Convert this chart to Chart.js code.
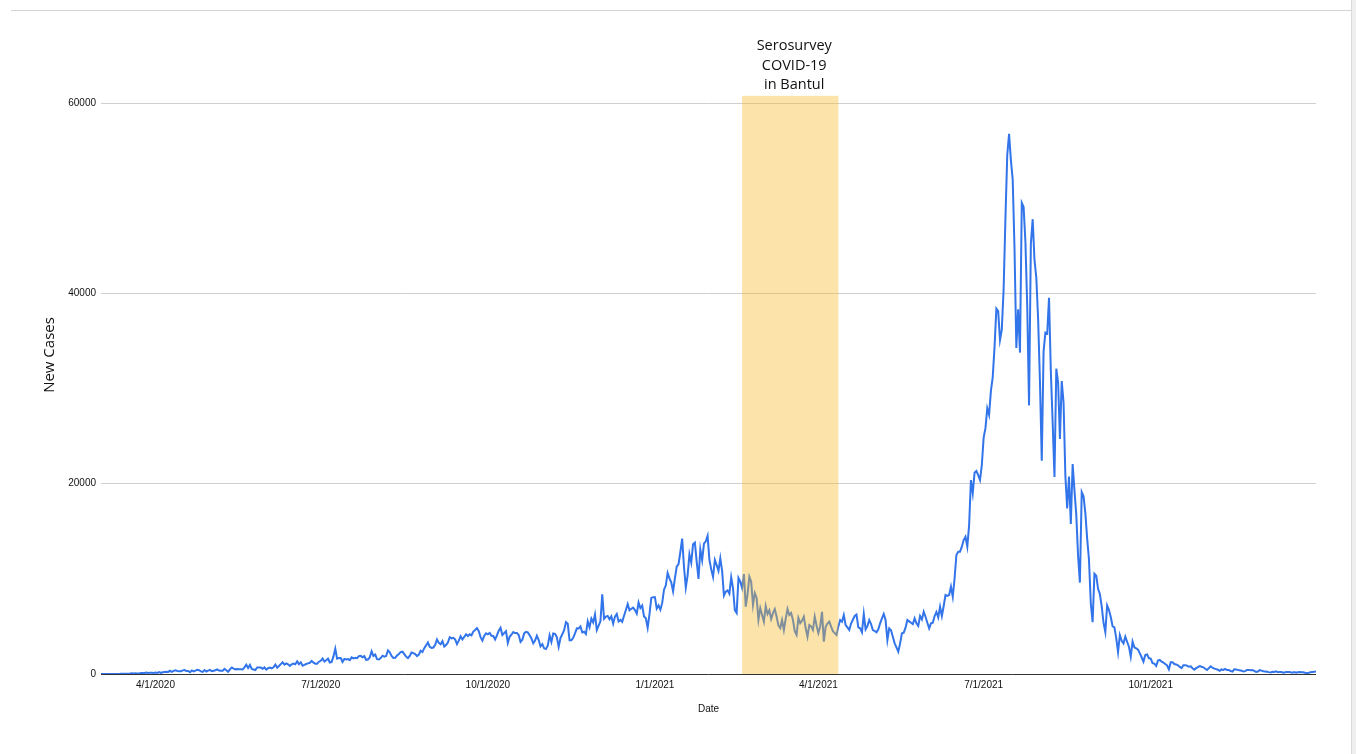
<!DOCTYPE html>
<html><head><meta charset="utf-8">
<script src="https://cdn.jsdelivr.net/npm/chart.js@4.4.1/dist/chart.umd.min.js"></script>
<style>
html,body{margin:0;padding:0;background:#fff;}
#wrap{position:relative;width:1356px;height:754px;overflow:hidden;}
canvas{position:absolute;left:0;top:0;}
#frameTop{position:absolute;left:11px;top:10px;width:1345px;height:0;border-top:1px solid #d4d4d4;}
#frameRight{position:absolute;left:1351px;top:0;width:5px;height:754px;background:#efefef;border-left:1px solid #dadada;}
</style></head>
<body><div id="wrap"><canvas id="c" width="1356" height="754"></canvas><div id="frameTop"></div><div id="frameRight"></div></div>
<script>
// ---- data (daily new cases, 3/2/2020 .. 12/31/2021) ----
const startDate = '3/2/2020';
const mar2020 = [2,0,0,0,2,0,2,13,8,7,0,35,27,21,17,38,55,82,60,81,64,65,107,104,103,153,109,130,129,114];
const apr2020 = [149,113,196,106,181,218,247,218,337,219,330,399,316,282,297,380,407,325,327,185,375,283,357,436,396,275,214,415,260,347];
const may2020 = [433,292,349,395,484,367,338,336,533,387,233,484,689,568,490,529,489,496,486,693,973,634,949,526,479,415,686,687,678,557,700];
const jun2020 = [467,609,684,585,703,993,672,847,1043,1241,979,1111,1014,857,1017,1106,1031,1331,1041,1226,862,954,1051,1113,1178,1385,1198,1082,1082,1293];
const jul2020 = [1385,1624,1301,1447,1607,1209,1268,1853,2657,1611,1671,1681,1282,1591,1522,1574,1462,1752,1639,1693,1655,1882,1906,1761,1868,1492,1525,1748,2381,1904,2040];
const aug2020 = [1560,1519,1679,1922,1815,1882,2473,2277,1893,1687,1693,1942,2098,2307,2345,2081,1821,1673,1902,2266,2197,2090,1877,2037,2447,2306,2719,3003,3308,2858,2743];
const sep2020 = [2775,3075,3622,3269,3128,3444,2880,3046,3307,3861,3737,3806,3636,3141,3507,3963,3635,3891,4168,3989,4176,4071,4465,4634,4823,4494,3874,3509,4002,4284];
const oct2020 = [4174,4317,4007,3992,3622,4056,4538,4850,4094,4294,4497,3267,3906,4127,4411,4301,4301,4105,3373,3602,4267,4432,4369,4070,3732,3222,3520,4029,3565,2897,3143];
const nov2020 = [2696,2618,2973,4065,3356,4262,4213,3880,2853,3779,4173,4598,5444,5272,3535,3535,3807,4265,4798,4792,4998,4360,4442,4192,5534,4917,5828,5418,6267,4617];
const dec2020 = [5092,5533,8369,5803,6027,6089,5754,6058,5292,6033,6310,5521,5681,5489,6120,6726,7354,6689,6848,6982,6719,6347,7514,6934,7199,6046,5854,4854,6267,8002,8074];
const jan2021 = [8072,6877,7203,6753,7445,8854,9321,10617,10046,9640,8692,10047,11278,11557,12818,14224,11287,9086,10365,12568,11703,13632,13802,11788,9994,13094,11948,13695,13950,14518,12001];
const feb2021 = [10994,10202,11984,11434,10840,12156,10827,8242,8650,8776,8435,10150,9000,6700,6400,10100,9700,9039,10500,7070,8400,10220,9700,7250,8500,8000,5700,6930];
const mar2021 = [6200,5500,7140,6300,6700,5780,6400,6830,6020,5100,4830,5670,4620,5800,6830,6200,6400,5670,4500,4100,5880,5350,5600,6020,4830,3920,5150,5000,4620,6020,5100];
const apr2021 = [4300,5000,6540,3400,4970,5300,5500,4970,4500,4300,4100,5000,5670,5500,6200,5150,4900,4620,5300,5700,6100,6250,4900,4800,4380,6300,4700,5040,5670,5250];
const may2021 = [4620,4520,4380,4700,5320,5850,6300,5670,3570,4800,4600,3920,3220,2800,2350,3220,4270,4340,4870,5670,5530,5390,5250,5850,5320,5040,6090,5740,6550,6020,5390];
const jun2021 = [4800,5320,5390,6090,6520,5950,7070,6090,7140,8300,8200,8300,9180,8120,10050,12500,12850,12850,13380,14080,14430,13380,15650,20380,18980,21150,21330,20900,20380,21960];
const jul2021 = [24836,25830,27913,27233,29745,31189,34379,38391,38124,35094,36197,40427,47899,54517,56757,54000,51952,44721,34257,38325,33772,49509,49071,45416,38679,28228,45203,47791,43479,41649,37284];
const aug2021 = [30738,22404,33900,35867,35764,39532,31753,26415,20709,32081,30625,24709,30788,28500,20813,17384,20741,15768,22053,19300,16744,12408,9604,19106,18671,16899,14224,12008,7427,5436,10534];
const sep2021 = [10337,8955,8400,7100,5403,4413,7201,6731,5990,5000,4900,3779,2300,4100,3500,3220,3920,3385,2870,1820,3400,2800,2700,2557,2170,1760,1300,2000,2057,1650];
const oct2021 = [1624,1142,1086,840,1404,1470,1300,1190,1056,894,490,1230,1233,1053,1008,918,747,620,914,924,881,760,802,605,460,611,730,838,761,701,544];
const nov2021 = [414,612,807,663,569,511,445,338,480,435,528,410,408,314,256,493,484,422,401,350,268,298,426,432,389,409,320,215,262,410];
const dec2021 = [357,284,268,240,197,165,227,220,276,194,211,204,146,190,200,204,185,134,193,128,176,220,183,192,135,92,139,193,218,233,274];

const xTickLabels = ['4/1/2020','7/1/2020','10/1/2020','1/1/2021','4/1/2021','7/1/2021','10/1/2021'];
const yTickValues = [0,20000,40000,60000];
const shadeStart = '2/18/2021';
const shadeEnd = '4/12/2021';
const shadeTopValue = 60750;
const annotationLines = ['Serosurvey','COVID-19','in Bantul'];
const seriesName = 'New Cases';
const xTitle = 'Date';

const newCases = [].concat(mar2020,apr2020,may2020,jun2020,jul2020,aug2020,sep2020,oct2020,nov2020,dec2020,
  jan2021,feb2021,mar2021,apr2021,may2021,jun2021,jul2021,aug2021,sep2021,oct2021,nov2021,dec2021);

function toUTC(s){const [m,d,y]=s.split('/').map(Number);return Date.UTC(y,m-1,d);}
const t0 = toUTC(startDate);
function dayIndex(s){return Math.round((toUTC(s)-t0)/86400000);}
const tickDays = xTickLabels.map(dayIndex);
const labelByDay = {}; tickDays.forEach((d,i)=>labelByDay[d]=xTickLabels[i]);

const FONT = '"Liberation Sans", Arial, sans-serif';

const shadePlugin = {
  id:'shade',
  afterDatasetsDraw(chart){
    const {ctx, scales:{x,y}} = chart;
    const x0 = x.getPixelForValue(dayIndex(shadeStart));
    const x1 = x.getPixelForValue(dayIndex(shadeEnd));
    const yTop = y.getPixelForValue(shadeTopValue);
    const yBot = y.getPixelForValue(0);
    ctx.save();
    ctx.fillStyle = 'rgba(246,186,40,0.4)';
    ctx.fillRect(x0, yTop, x1-x0, yBot-yTop);
    ctx.fillStyle = '#111';
    ctx.font = '14.5px "Open Sans"';
    ctx.textAlign = 'center';
    ctx.textBaseline = 'alphabetic';
    const cx = (x0+x1)/2 + 4;
    annotationLines.forEach((t,i)=>ctx.fillText(t, cx, yTop - 45.5 + i*19.4));
    ctx.translate(50, 355);
    ctx.rotate(-Math.PI/2);
    ctx.font = '15px "Open Sans"';
    ctx.textBaseline = 'middle';
    ctx.fillText(seriesName, 0, 0);
    ctx.restore();
  }
};

new Chart(document.getElementById('c'), {
  type:'line',
  data:{datasets:[{
    label:seriesName,
    data:newCases.map((v,i)=>({x:i,y:v})),
    borderColor:'#3274ea',
    borderWidth:2,
    pointRadius:0,
    tension:0,
    fill:false
  }]},
  options:{
    responsive:false,
    animation:false,
    devicePixelRatio:1,
    layout:{padding:{top:103,right:40,bottom:0,left:0}},
    plugins:{legend:{display:false},tooltip:{enabled:false}},
    scales:{
      x:{
        type:'linear', min:0, max:newCases.length-1,
        grid:{display:false, drawTicks:false},
        border:{display:false},
        afterBuildTicks:(s)=>{s.ticks = tickDays.map(v=>({value:v}));},
        afterFit:(s)=>{s.height = 80;},
        ticks:{autoSkip:false, maxRotation:0, padding:5, color:'#111',
          font:{family:FONT,size:10},
          callback:(v)=>labelByDay[v] ?? ''},
        title:{display:true, text:xTitle, color:'#111', font:{family:FONT,size:10}, padding:{top:0,bottom:39}}
      },
      y:{
        min:0, max:60000,
        afterBuildTicks:(s)=>{s.ticks = yTickValues.map(v=>({value:v}));},
        afterFit:(s)=>{s.width = 101;},
        grid:{drawTicks:false, color:(c)=>c.tick && c.tick.value===0 ? '#333' : '#cfcfcf', lineWidth:1},
        border:{display:false},
        ticks:{padding:5, color:'#111', font:{family:FONT,size:10}, callback:(v)=>String(v)}
      }
    }
  },
  plugins:[shadePlugin]
});
</script>
</body></html>
